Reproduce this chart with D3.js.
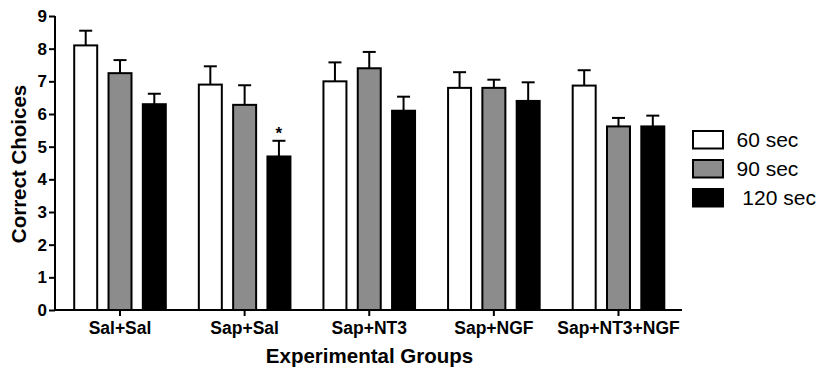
<!DOCTYPE html>
<html lang="en">
<head>
  <meta charset="UTF-8">
  <title>Correct Choices by Experimental Group</title>
  <script src="https://d3js.org/d3.v7.min.js"></script>
  <style>
    body { margin: 0; background: #fff; }
    svg text { font-family: "Liberation Sans", Arial, sans-serif; }
  </style>
</head>
<body>
  <svg width="817" height="371"></svg>
  <script>
    // data
    const groups = ["Sal+Sal", "Sap+Sal", "Sap+NT3", "Sap+NGF", "Sap+NT3+NGF"];
    const series = ["60 sec", "90 sec", "120 sec"];
    const means60 = [8.1, 6.9, 7.0, 6.8, 6.87];
    const means90 = [7.25, 6.28, 7.4, 6.8, 5.62];
    const means120 = [6.3, 4.7, 6.1, 6.4, 5.62];
    const sem60 = [0.45, 0.56, 0.58, 0.48, 0.47];
    const sem90 = [0.4, 0.6, 0.5, 0.25, 0.26];
    const sem120 = [0.32, 0.48, 0.43, 0.57, 0.33];
    const yTicks = [0, 1, 2, 3, 4, 5, 6, 7, 8, 9];
    const starred = [{ group: "Sap+Sal", series: "120 sec" }];

    const fills = { "60 sec": "#ffffff", "90 sec": "#8c8c8c", "120 sec": "#000000" };
    const meanBy = { "60 sec": means60, "90 sec": means90, "120 sec": means120 };
    const semBy = { "60 sec": sem60, "90 sec": sem90, "120 sec": sem120 };

    const rows = [];
    groups.forEach((g, i) => {
      series.forEach(s => rows.push({ group: g, series: s, mean: meanBy[s][i], sem: semBy[s][i] }));
    });

    const svg = d3.select("svg");

    const x = d3.scaleBand().domain(groups).range([57.7, 680.8]).padding(0);
    const xs = d3.scaleBand().domain(series).range([-45.8, 45.8]).paddingInner(0.33).paddingOuter(0);
    const y = d3.scaleLinear().domain([0, 9]).range([310, 16]);

    const groupCenter = g => x(g) + x.bandwidth() / 2;
    const barMid = d => groupCenter(d.group) + xs(d.series) + xs.bandwidth() / 2;

    // bars
    svg.append("g").selectAll("rect")
      .data(rows)
      .join("rect")
      .attr("x", d => groupCenter(d.group) + xs(d.series))
      .attr("y", d => y(d.mean))
      .attr("width", xs.bandwidth())
      .attr("height", d => y(0) - y(d.mean))
      .attr("fill", d => fills[d.series])
      .attr("stroke", "#000")
      .attr("stroke-width", 2);

    // error bars, upper half only
    const err = svg.append("g").attr("stroke", "#000").attr("stroke-width", 2);
    err.selectAll("line.v")
      .data(rows)
      .join("line")
      .attr("class", "v")
      .attr("x1", barMid)
      .attr("x2", barMid)
      .attr("y1", d => y(d.mean))
      .attr("y2", d => y(d.mean + d.sem));
    err.selectAll("line.cap")
      .data(rows)
      .join("line")
      .attr("class", "cap")
      .attr("x1", d => barMid(d) - 6.5)
      .attr("x2", d => barMid(d) + 6.5)
      .attr("y1", d => y(d.mean + d.sem))
      .attr("y2", d => y(d.mean + d.sem));

    // significance marker
    svg.append("g").selectAll("text")
      .data(starred)
      .join("text")
      .attr("x", d => groupCenter(d.group) + xs(d.series) + xs.bandwidth() / 2)
      .attr("y", d => {
        const r = rows.find(r => r.group === d.group && r.series === d.series);
        return y(r.mean + r.sem) - 2;
      })
      .attr("text-anchor", "middle")
      .attr("font-size", 17)
      .attr("font-weight", "bold")
      .text("*");

    // axes
    const yAxis = svg.append("g")
      .attr("transform", "translate(55,0)")
      .call(d3.axisLeft(y).tickValues(yTicks).tickSize(6).tickPadding(2).tickFormat(d3.format("d")));
    yAxis.select(".domain").attr("stroke-width", 2).attr("d", `M0,${y(9)}V${y(0)}`);
    yAxis.selectAll(".tick line").attr("stroke-width", 2);
    yAxis.selectAll("text").attr("font-size", 17).attr("font-weight", "bold").attr("fill", "#000");

    const xAxis = svg.append("g")
      .attr("transform", `translate(0,${y(0)})`)
      .call(d3.axisBottom(x).tickSize(6).tickPadding(6));
    xAxis.select(".domain").attr("stroke-width", 2).attr("d", "M54,0H682");
    xAxis.selectAll(".tick line").attr("stroke-width", 2);
    xAxis.selectAll("text").attr("font-size", 17.5).attr("font-weight", "bold").attr("fill", "#000");

    // axis titles
    svg.append("text")
      .attr("transform", "translate(26,164) rotate(-90)")
      .attr("text-anchor", "middle")
      .attr("font-size", 20.5)
      .attr("font-weight", "bold")
      .text("Correct Choices");

    svg.append("text")
      .attr("x", 369.5)
      .attr("y", 363)
      .attr("text-anchor", "middle")
      .attr("font-size", 20.5)
      .attr("font-weight", "bold")
      .text("Experimental Groups");

    // legend
    const legend = svg.append("g").attr("transform", "translate(693,131)");
    const item = legend.selectAll("g")
      .data(series)
      .join("g")
      .attr("transform", (d, i) => `translate(0,${i * 29})`);
    item.append("rect")
      .attr("width", 30)
      .attr("height", 17.5)
      .attr("fill", d => fills[d])
      .attr("stroke", "#000")
      .attr("stroke-width", 2);
    item.append("text")
      .attr("x", 43.5)
      .attr("y", 9)
      .attr("dy", "0.35em")
      .attr("font-size", 21)
      .style("white-space", "pre")
      .text(d => d === "120 sec" ? " " + d : d);
  </script>
</body>
</html>
